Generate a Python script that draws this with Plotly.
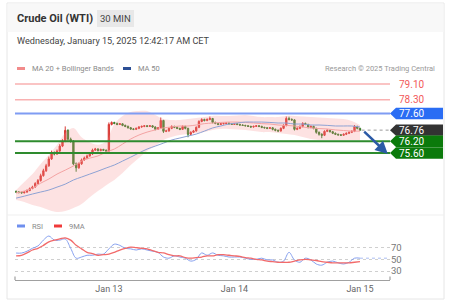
import plotly.graph_objects as go

W, H = 454, 308

# ---------------- data ----------------
tick_labels = ["Jan 13", "Jan 14", "Jan 15"]
tick_idx = [34, 80, 126]

opens = [73.65, 73.62, 73.60, 73.58, 73.62, 73.70, 73.80, 73.88, 74.05, 74.20,
         74.45, 74.70, 74.95, 75.30, 75.60, 75.55, 75.70, 75.95, 76.20, 76.75,
         76.30, 76.20, 75.05, 74.85, 75.05, 75.25, 75.35, 75.45, 75.55, 75.75,
         75.80, 75.72, 75.78, 75.74, 75.70, 77.05, 77.15, 77.10, 77.05, 77.08,
         77.00, 76.95, 76.88, 76.82, 76.80, 76.85, 76.92, 76.95, 76.98, 76.95,
         76.98, 76.92, 76.80, 76.88, 77.25, 76.70, 76.72, 76.85, 76.95, 76.90,
         76.85, 76.80, 76.95, 76.85, 76.55, 76.65, 76.72, 76.90, 77.20, 77.30,
         77.25, 77.30, 77.35, 77.15, 77.10, 77.05, 77.08, 77.10, 77.12, 77.08,
         77.05, 77.08, 77.05, 77.02, 77.00, 76.98, 76.95, 76.92, 76.95, 76.98,
         76.95, 76.90, 76.88, 76.85, 76.88, 76.80, 76.75, 76.72, 76.85, 77.00,
         77.35, 77.30, 77.28, 76.80, 76.85, 76.95, 77.10, 77.05, 76.90, 76.95,
         76.85, 76.65, 76.55, 76.50, 76.70, 76.75, 76.68, 76.60, 76.55, 76.52,
         76.50, 76.55, 76.60, 76.65, 76.70, 76.95, 76.85]
closes = [73.62, 73.60, 73.58, 73.62, 73.70, 73.80, 73.88, 74.05, 74.20, 74.45,
          74.70, 74.95, 75.30, 75.60, 75.55, 75.70, 75.95, 76.20, 76.75, 76.30,
          76.20, 75.05, 74.85, 75.05, 75.25, 75.35, 75.45, 75.55, 75.75, 75.80,
          75.72, 75.78, 75.74, 75.70, 77.05, 77.15, 77.10, 77.05, 77.08, 77.00,
          76.95, 76.88, 76.82, 76.80, 76.85, 76.92, 76.95, 76.98, 76.95, 76.98,
          76.92, 76.80, 76.88, 77.25, 76.70, 76.72, 76.85, 76.95, 76.90, 76.85,
          76.80, 76.95, 76.85, 76.55, 76.65, 76.72, 76.90, 77.20, 77.30, 77.25,
          77.30, 77.35, 77.15, 77.10, 77.05, 77.08, 77.10, 77.12, 77.08, 77.05,
          77.08, 77.05, 77.02, 77.00, 76.98, 76.95, 76.92, 76.95, 76.98, 76.95,
          76.90, 76.88, 76.85, 76.88, 76.80, 76.75, 76.72, 76.85, 77.00, 77.35,
          77.30, 77.28, 76.80, 76.85, 76.95, 77.10, 77.05, 76.90, 76.95, 76.85,
          76.65, 76.55, 76.50, 76.70, 76.75, 76.68, 76.60, 76.55, 76.52, 76.50,
          76.55, 76.60, 76.65, 76.70, 76.95, 76.85, 76.76]
highs = [73.70, 73.66, 73.64, 73.66, 73.75, 73.85, 73.94, 74.12, 74.28, 74.55,
         74.80, 75.05, 75.42, 75.72, 75.68, 75.78, 76.05, 76.30, 76.95, 76.80,
         76.38, 76.25, 75.12, 75.12, 75.32, 75.42, 75.52, 75.62, 75.82, 75.86,
         75.84, 75.82, 75.81, 75.78, 77.15, 77.20, 77.18, 77.14, 77.12, 77.11,
         77.04, 76.99, 76.92, 76.86, 76.89, 76.96, 76.99, 77.02, 77.01, 77.02,
         77.01, 76.95, 76.92, 77.40, 77.28, 76.78, 76.90, 77.00, 76.98, 76.94,
         76.88, 77.00, 76.98, 76.88, 76.70, 76.77, 76.95, 77.26, 77.36, 77.34,
         77.36, 77.45, 77.38, 77.19, 77.13, 77.12, 77.14, 77.16, 77.15, 77.11,
         77.12, 77.11, 77.08, 77.05, 77.03, 77.01, 76.98, 76.99, 77.02, 77.01,
         76.98, 76.93, 76.91, 76.92, 76.91, 76.84, 76.79, 76.90, 77.06, 77.45,
         77.44, 77.36, 77.31, 76.90, 77.00, 77.16, 77.14, 77.08, 76.99, 76.98,
         76.88, 76.69, 76.60, 76.75, 76.80, 76.78, 76.72, 76.64, 76.58, 76.56,
         76.59, 76.64, 76.69, 76.75, 77.02, 76.98, 76.88]
lows = [73.57, 73.55, 73.54, 73.55, 73.58, 73.66, 73.76, 73.84, 74.00, 74.15,
        74.40, 74.64, 74.90, 75.25, 75.48, 75.50, 75.65, 75.90, 76.15, 76.22,
        76.12, 74.98, 74.65, 74.80, 75.00, 75.20, 75.30, 75.41, 75.50, 75.70,
        75.68, 75.69, 75.70, 75.66, 75.66, 77.00, 77.06, 77.01, 77.02, 76.96,
        76.91, 76.84, 76.78, 76.76, 76.77, 76.81, 76.88, 76.91, 76.91, 76.92,
        76.88, 76.75, 76.77, 76.84, 76.62, 76.66, 76.68, 76.81, 76.86, 76.81,
        76.76, 76.77, 76.80, 76.40, 76.50, 76.61, 76.68, 76.86, 77.16, 77.20,
        77.21, 77.26, 77.10, 77.06, 77.01, 77.02, 77.05, 77.07, 77.05, 77.02,
        77.02, 77.01, 76.98, 76.97, 76.95, 76.92, 76.88, 76.89, 76.92, 76.91,
        76.86, 76.84, 76.81, 76.82, 76.75, 76.70, 76.66, 76.68, 76.81, 76.95,
        77.25, 77.23, 76.74, 76.76, 76.81, 76.90, 77.01, 76.85, 76.86, 76.80,
        76.58, 76.48, 76.35, 76.46, 76.66, 76.64, 76.56, 76.51, 76.48, 76.46,
        76.47, 76.51, 76.56, 76.61, 76.66, 76.80, 76.72]

# indicators sampled every 3 candles
ind_idx = list(range(0, 127, 3))
ma20 = [73.57, 73.67, 73.82, 74.07, 74.28, 74.53, 74.73, 74.94, 75.19, 75.34,
        75.45, 75.65, 75.80, 76.05, 76.31, 76.51, 76.66, 76.77, 76.87, 76.92,
        76.97, 76.97, 77.02, 77.09, 77.12, 77.15, 77.17, 77.17, 77.15, 77.12,
        77.09, 77.07, 77.02, 77.00, 76.97, 76.92, 76.87, 76.84, 76.82, 76.77,
        76.74, 76.71, 76.71]
bb_upper = [73.72, 74.13, 74.53, 75.04, 75.50, 76.00, 76.61, 76.87, 76.40, 76.15,
            76.02, 76.20, 77.07, 77.48, 77.68, 77.73, 77.73, 77.53, 77.32, 77.27,
            77.27, 77.32, 77.37, 77.42, 77.48, 77.48, 77.48, 77.50, 77.53, 77.48,
            77.42, 77.42, 77.42, 77.48, 77.48, 77.45, 77.42, 77.40, 77.37, 77.35,
            77.32, 77.22, 77.02]
bb_lower = [73.21, 73.11, 72.96, 72.86, 72.71, 72.61, 72.66, 72.81, 73.01, 73.36,
            73.67, 73.97, 74.23, 74.58, 74.99, 75.34, 75.70, 75.95, 76.26, 76.41,
            76.51, 76.56, 76.61, 76.66, 76.77, 76.82, 76.82, 76.79, 76.77, 76.71,
            76.66, 76.66, 76.61, 76.56, 76.51, 76.41, 76.31, 76.26, 76.26, 76.26,
            76.26, 76.26, 76.26]
ma50 = [73.31, 73.41, 73.52, 73.62, 73.72, 73.87, 74.02, 74.23, 74.38, 74.53,
        74.68, 74.84, 74.99, 75.19, 75.39, 75.60, 75.80, 75.95, 76.10, 76.26,
        76.36, 76.46, 76.56, 76.71, 76.87, 76.97, 77.07, 77.12, 77.17, 77.17,
        77.17, 77.15, 77.12, 77.12, 77.07, 77.07, 77.02, 77.02, 77.00, 76.97,
        76.97, 76.97, 76.92]

# RSI sampled every 2 candles
rsi_idx = list(range(0, 127, 2))
rsi = [60.8, 60.8, 64, 69, 73, 83, 90, 83, 83, 85,
       69, 52, 54, 57, 57, 59, 59, 68, 76, 74,
       69, 68, 66, 68, 66, 64, 62, 54, 52, 56,
       54, 52, 47, 50, 61, 57, 61, 57, 56, 54,
       54, 54, 52, 50, 50, 52, 49, 49, 45, 47,
       62, 49, 45, 52, 49, 42, 40, 45, 47, 44,
       42, 45, 52, 52]
rsi_ma = [56, 57, 61, 66, 69, 74, 80, 83, 85, 87,
          83, 74, 68, 62, 60, 57, 58, 59, 62, 66,
          69, 71, 70, 69, 68, 65, 62, 61, 58, 56,
          56, 53, 52, 53, 54, 56, 56, 58, 58, 57,
          56, 55, 53, 52, 50, 49, 47, 46, 45, 45,
          45, 47, 49, 50, 49, 48, 46, 45, 44, 44,
          44, 44, 45, 46]
rsi_levels = [30, 50, 70]

levels = [79.10, 78.30, 77.60, 76.76, 76.20, 75.60]
level_text = ["79.10", "78.30", "77.60", "76.76", "76.20", "75.60"]
target_price = 75.55

# ---------------- helpers (pixel -> paper) ----------------
def X(px):
    return px / W

def Y(py):
    return 1 - py / H

FONT = "Roboto, Arial, sans-serif"
X_RANGE = [-0.4, 137.0]
x_idx = list(range(len(closes)))

fig = go.Figure()

# Bollinger band fill
fig.add_trace(go.Scatter(x=ind_idx, y=bb_upper, mode="lines", line=dict(width=0, shape="spline"),
                         hoverinfo="skip", showlegend=False, xaxis="x", yaxis="y"))
fig.add_trace(go.Scatter(x=ind_idx, y=bb_lower, mode="lines", line=dict(width=0, shape="spline"),
                         fill="tonexty", fillcolor="rgba(248,140,140,0.25)",
                         hoverinfo="skip", showlegend=False, xaxis="x", yaxis="y"))
fig.add_trace(go.Scatter(x=ind_idx, y=ma20, mode="lines", line=dict(color="#f4a3a3", width=1, shape="spline"),
                         showlegend=False, xaxis="x", yaxis="y"))
fig.add_trace(go.Scatter(x=ind_idx, y=ma50, mode="lines", line=dict(color="#8ea2d4", width=1, shape="spline"),
                         showlegend=False, xaxis="x", yaxis="y"))

fig.add_trace(go.Candlestick(
    x=x_idx, open=opens, high=highs, low=lows, close=closes,
    increasing=dict(line=dict(color="#d93a35", width=1), fillcolor="#d93a35"),
    decreasing=dict(line=dict(color="#3b7f2c", width=1), fillcolor="#3b7f2c"),
    whiskerwidth=0, showlegend=False, xaxis="x", yaxis="y"))

# dotted continuation of last price
fig.add_trace(go.Scatter(x=[x_idx[-1] + 0.6, X_RANGE[1]], y=[closes[-1], closes[-1]], mode="lines",
                         line=dict(color="#9a9a9a", width=1, dash="dot"), showlegend=False,
                         xaxis="x", yaxis="y"))

# RSI panel
fig.add_trace(go.Scatter(x=rsi_idx, y=rsi, mode="lines", line=dict(color="#86a0ef", width=1, shape="spline"),
                         showlegend=False, xaxis="x2", yaxis="y2"))
fig.add_trace(go.Scatter(x=rsi_idx, y=rsi_ma, mode="lines", line=dict(color="#f26a6a", width=1.3, shape="spline"),
                         showlegend=False, xaxis="x2", yaxis="y2"))
fig.add_trace(go.Scatter(x=[rsi_idx[-1], X_RANGE[1]], y=[rsi[-1], rsi[-1]], mode="lines",
                         line=dict(color="#a9bcf3", width=1, dash="dot"), showlegend=False,
                         xaxis="x2", yaxis="y2"))

shapes = []
annotations = []


def note(text, x, y, size, color, anchor="left", xref="paper", yref="paper"):
    annotations.append(dict(text=text, x=x, y=y, xref=xref, yref=yref, xanchor=anchor,
                            yanchor="middle", showarrow=False,
                            font=dict(size=size, color=color, family=FONT)))


# card / header
shapes.append(dict(type="rect", xref="paper", yref="paper", x0=X(7), x1=X(444), y0=Y(299), y1=Y(3),
                   line=dict(color="#e6e6e6", width=1), fillcolor="white", layer="below"))
shapes.append(dict(type="rect", xref="paper", yref="paper", x0=X(7.5), x1=X(443.5), y0=Y(32), y1=Y(3.5),
                   line=dict(width=0), fillcolor="#f8f8f8", layer="below"))
shapes.append(dict(type="rect", xref="paper", yref="paper", x0=X(97), x1=X(134), y0=Y(27), y1=Y(10),
                   line=dict(width=0), fillcolor="#e8e8e8", layer="below"))
shapes.append(dict(type="line", xref="paper", yref="paper", x0=X(7), x1=X(444), y0=Y(215), y1=Y(215),
                   line=dict(color="#efefef", width=1)))

note("<b>Crude Oil (WTI)</b>", X(15), Y(18.5), 11, "#333")
note("30 MIN", X(115.5), Y(18.5), 9.5, "#444", anchor="center")
note("Wednesday, January 15, 2025 12:42:17 AM CET", X(15), Y(41.5), 9.1, "#444")
note("MA 20 + Bollinger Bands", X(30), Y(68.5), 7.5, "#8a8a8a")
note("MA 50", X(136), Y(68.5), 7.5, "#8a8a8a")
note("Research © 2025 Trading Central", X(437), Y(68.5), 7.5, "#9a9a9a", anchor="right")
note("RSI", X(30), Y(226), 7.5, "#8a8a8a")
note("9MA", X(67), Y(226), 7.5, "#8a8a8a")

for (x0, x1, yy, col) in [(17, 25, 68.5, "#f28b8b"), (123, 131, 68.5, "#2d4f95"),
                           (17, 25, 226, "#6f8fee"), (54, 62, 226, "#f03a3a")]:
    shapes.append(dict(type="line", xref="paper", yref="paper", x0=X(x0), x1=X(x1), y0=Y(yy), y1=Y(yy),
                       line=dict(color=col, width=3)))

# level lines and tags
line_styles = {
    "79.10": dict(color="#f9b1b1", width=1.5),
    "78.30": dict(color="#f9b1b1", width=1.5),
    "77.60": dict(color="#7f9cf3", width=2),
    "76.20": dict(color="#2e8b2e", width=2),
    "75.60": dict(color="#2e8b2e", width=2),
}
tag_colors = {"77.60": "#2a6df4", "76.76": "#333333", "76.20": "#0b7a0b", "75.60": "#0b7a0b"}
half = 0.29
for lv, txt in zip(levels, level_text):
    if txt in line_styles:
        shapes.append(dict(type="line", xref="paper", yref="y", x0=X(15), x1=X(390), y0=lv, y1=lv,
                           line=line_styles[txt]))
    if txt in tag_colors:
        path = (f"M {X(390)},{lv} L {X(396)},{lv + half} L {X(443)},{lv + half} "
                f"L {X(443)},{lv - half} L {X(396)},{lv - half} Z")
        shapes.append(dict(type="path", xref="paper", yref="y", path=path,
                           fillcolor=tag_colors[txt], line=dict(width=0)))
        note(txt, X(397), lv, 10, "white", yref="y")
    else:
        note(txt, X(397), lv, 10, "#f25a5a", yref="y")

# arrow
annotations.append(dict(text="", x=136.2, y=target_price, xref="x", yref="y",
                        ax=x_idx[-1] + 1.0, ay=closes[-1], axref="x", ayref="y",
                        showarrow=True, arrowhead=2, arrowsize=1, arrowwidth=2.5, arrowcolor="#2b5aa6"))

# RSI axis end ticks
for xp in (15, 390):
    shapes.append(dict(type="line", xref="paper", yref="paper", x0=X(xp), x1=X(xp), y0=Y(280), y1=Y(276.5),
                       line=dict(color="#a0a0a0", width=1.2)))

fig.update_layout(
    width=W, height=H, margin=dict(l=0, r=0, t=0, b=0),
    paper_bgcolor="white", plot_bgcolor="rgba(0,0,0,0)",
    font=dict(family=FONT),
    showlegend=False,
    shapes=shapes, annotations=annotations,
    xaxis=dict(domain=[X(15), X(390)], range=X_RANGE, showticklabels=False, showgrid=False,
               zeroline=False, rangeslider=dict(visible=False), anchor="y"),
    yaxis=dict(domain=[Y(215), Y(78)], range=[79.10 - 131 / 19.714, 79.10 + 6 / 19.714],
               visible=False, showgrid=False, zeroline=False),
    xaxis2=dict(domain=[X(15), X(390)], range=X_RANGE, anchor="y2", tickmode="array",
                tickvals=tick_idx, ticktext=tick_labels, showline=True, linecolor="#a0a0a0",
                linewidth=1.2, showgrid=False, zeroline=False, ticks="",
                tickfont=dict(size=9, color="#666", family=FONT)),
    yaxis2=dict(domain=[Y(280), Y(222)], range=[14.55, 114.1], side="right", tickmode="array",
                tickvals=rsi_levels, ticktext=[str(v) for v in rsi_levels], showgrid=True,
                gridcolor="#cfcfcf", griddash="dot", gridwidth=1, zeroline=False, showline=False,
                ticks="", tickfont=dict(size=9.5, color="#777", family=FONT), anchor="x2"),
)

fig.write_html("out.html")
